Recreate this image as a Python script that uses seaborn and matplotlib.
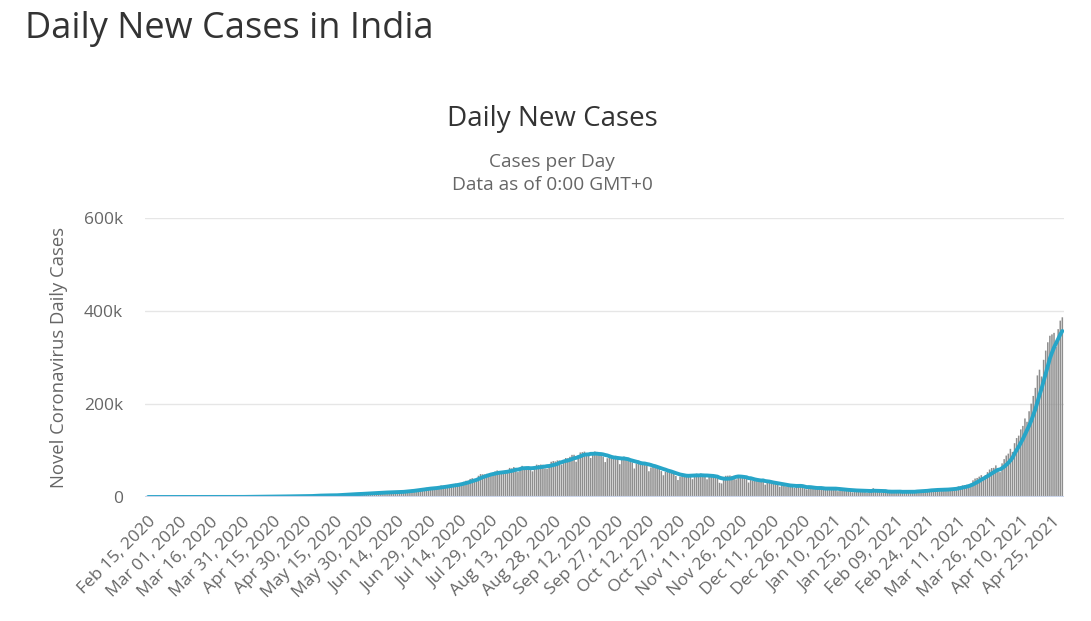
import numpy as np
import pandas as pd
import matplotlib
matplotlib.use("Agg")
import matplotlib.pyplot as plt
import seaborn as sns

# Daily new cases in India, Feb 15 2020 -> Apr 30 2021
feb_2020 = [0] * 15
mar_2020 = [0, 2, 1, 22, 1, 1, 3, 5, 9, 15, 8, 10, 10, 12, 11, 23, 15, 28, 23, 78,
            75, 74, 103, 77, 88, 87, 151, 137, 114, 227, 146]
apr_2020 = [601, 545, 478, 554, 489, 648, 573, 565, 813, 871, 854, 758, 1243, 1031, 886,
            1061, 922, 1371, 1580, 1239, 1537, 1292, 1667, 1408, 1835, 1607, 1561, 1873, 1738, 1801]
may_2020 = [1993, 2293, 2644, 2553, 3656, 2971, 3587, 3364, 3344, 3113, 4311, 3592, 3562, 3726,
            3967, 3970, 4987, 5242, 4970, 5611, 5609, 6088, 6654, 6767, 6977, 6535, 6387, 7466,
            7964, 8380, 8789]
jun_2020 = [8392, 8171, 8909, 9304, 9851, 9887, 9971, 9983, 9987, 9985, 9996, 10956, 11458, 11929,
            11502, 10667, 10974, 12881, 13586, 14516, 15413, 14821, 14933, 15968, 16922, 17296,
            18552, 19906, 19459, 18522]
jul_2020 = [18653, 19148, 20903, 22771, 24850, 24248, 22252, 22752, 24879, 26506, 27114, 28637,
            28701, 28498, 29429, 32695, 34956, 34884, 38902, 40425, 37148, 37724, 45720, 49310,
            48916, 48661, 49931, 47703, 48513, 52123, 55079]
aug_2020 = [57118, 54735, 52972, 52050, 52509, 56282, 62538, 61537, 64399, 62064, 53601, 60963,
            66999, 64553, 65002, 63490, 57981, 55079, 64531, 69652, 68898, 69878, 69239, 61408,
            60975, 67151, 75760, 77266, 76472, 78761, 78512]
sep_2020 = [69921, 78357, 83883, 83341, 86432, 90632, 90802, 75809, 89706, 95735, 96551, 97570,
            94372, 92071, 83809, 90123, 97894, 96424, 93337, 92605, 86961, 75083, 83347, 86508,
            86052, 85362, 88600, 82170, 70589, 80472]
oct_2020 = [86821, 81484, 79476, 75829, 74442, 61267, 72049, 78524, 70496, 73272, 74383, 66732,
            55342, 63509, 67708, 63371, 62212, 61871, 55722, 46790, 54044, 55839, 54366, 53370,
            50129, 45149, 36470, 43893, 49881, 48648, 46963]
nov_2020 = [48268, 46964, 38310, 46254, 50210, 47638, 50357, 45674, 45903, 38073, 44281, 47905,
            44879, 44684, 41100, 30548, 29163, 38617, 45576, 45882, 46232, 45209, 44059, 37975,
            44376, 44489, 43082, 41322, 41810, 31118]
dec_2020 = [36604, 35668, 35551, 36595, 36652, 36011, 32981, 26567, 32080, 31521, 29398, 30006,
            30254, 27071, 22065, 26382, 24010, 22889, 25152, 26624, 24337, 19556, 23950, 24712,
            23067, 22273, 18732, 16432, 20550, 21822, 20035]
jan_2021 = [19079, 19078, 18177, 16504, 16375, 18088, 20346, 18139, 18222, 18645, 16311, 12584,
            15968, 16946, 15590, 15158, 15144, 13788, 10064, 13823, 15223, 14545, 14256, 14849,
            13203, 9102, 12689, 11666, 18855, 13083, 13052]
feb_2021 = [11427, 8635, 11039, 12899, 12408, 11713, 12059, 11831, 9110, 11067, 12923, 9309,
            12143, 12194, 11649, 9121, 11610, 12881, 13193, 13993, 14264, 14199, 10584, 13742,
            16738, 16577, 16488, 16752]
mar_2021 = [15510, 12286, 14989, 17407, 16838, 18327, 18711, 18599, 15388, 17921, 22854, 23285,
            24882, 25320, 26291, 24492, 28903, 35871, 39726, 40953, 43846, 46951, 40715, 47262,
            53476, 59118, 62258, 62714, 68020, 56211, 53480]
apr_2021 = [72330, 81466, 89129, 93249, 103558, 96982, 115736, 126789, 131968, 145384, 152879,
            168912, 161736, 184372, 200739, 217353, 234692, 261500, 273810, 259170, 295041,
            314835, 332730, 346786, 349691, 352991, 323144, 360960, 379257, 386452]

cases = (feb_2020 + mar_2020 + apr_2020 + may_2020 + jun_2020 + jul_2020 + aug_2020 + sep_2020
         + oct_2020 + nov_2020 + dec_2020 + jan_2021 + feb_2021 + mar_2021 + apr_2021)
dates = pd.date_range("2020-02-15", periods=len(cases), freq="D")
y_ticks = [0, 200000, 400000, 600000]
y_tick_labels = ["0", "200k", "400k", "600k"]

df = pd.DataFrame({"day": np.arange(len(cases)), "cases": cases})
df["avg7"] = df["cases"].rolling(7, min_periods=1).mean()

sns.set_theme(style="white")
plt.rcParams["font.family"] = ["Open Sans", "DejaVu Sans"]

fig = plt.figure(figsize=(10.91, 6.21), dpi=100)
ax = fig.add_axes([145 / 1091, 1 - 497 / 621, (1064 - 145) / 1091, (497 - 218) / 621])

sns.barplot(data=df, x="day", y="cases", color="#8e8e8e", saturation=1, width=0.74,
            edgecolor="none", ax=ax, zorder=2)
for bar in ax.patches:
    bar.set_snap(False)
sns.lineplot(data=df, x="day", y="avg7", color="#27a5c8", linewidth=2.8, ax=ax, zorder=3)

ax.set_xlim(-1.5, len(cases) - 0.2)
ax.set_ylim(0, 600000)
ax.set_yticks(y_ticks)
ax.set_yticklabels(y_tick_labels)
for yv in y_ticks[1:]:
    ax.axhline(yv, color="#e6e6e6", linewidth=1, zorder=1)
ax.axhline(0, color="#ccd6eb", linewidth=1.5, zorder=4)

tick_pos = list(range(0, len(cases), 15))
ax.set_xticks(tick_pos)
ax.set_xticklabels([dates[i].strftime("%b %d, %Y") for i in tick_pos], rotation=45,
                   ha="right", rotation_mode="anchor")
ax.tick_params(axis="x", length=0, pad=12, labelsize=12.5, labelcolor="#666666")
ax.tick_params(axis="y", length=0, pad=16, labelsize=12.5, labelcolor="#666666")
ax.set_xlabel("")
ax.set_ylabel("Novel Coronavirus Daily Cases", fontsize=13.3, color="#666666", labelpad=11)
for s in ax.spines.values():
    s.set_visible(False)

fig.text(25 / 1091, 1 - 38 / 621, "Daily New Cases in India", fontsize=26, color="#333333",
         va="baseline", ha="left")
fig.text(552 / 1091, 1 - 126 / 621, "Daily New Cases", fontsize=20, color="#333333",
         va="baseline", ha="center")
fig.text(552 / 1091, 1 - 167 / 621, "Cases per Day", fontsize=13.8, color="#666666",
         va="baseline", ha="center")
fig.text(552 / 1091, 1 - 190 / 621, "Data as of 0:00 GMT+0", fontsize=13.8, color="#666666",
         va="baseline", ha="center")

fig.savefig("out.png", dpi=100)
